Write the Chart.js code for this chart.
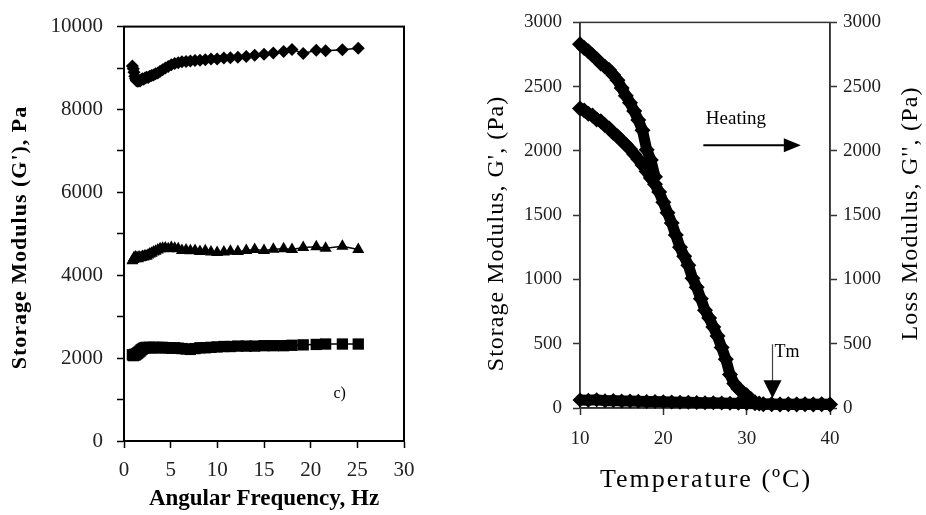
<!DOCTYPE html>
<html>
<head>
<meta charset="utf-8">
<script src="https://cdn.jsdelivr.net/npm/chart.js@4.4.0/dist/chart.umd.min.js"></script>
<style>
  html, body { margin: 0; padding: 0; background: #fff; }
  #wrap { position: relative; width: 926px; height: 515px; overflow: hidden; }
  #left { position: absolute; left: 0; top: 0; width: 460px; height: 515px; }
  #right { position: absolute; left: 460px; top: 0; width: 466px; height: 515px; }
</style>
</head>
<body>
<div id="wrap">
  <canvas id="left" width="460" height="515"></canvas>
  <canvas id="right" width="466" height="515"></canvas>
</div>
<script>
// ---- left panel: storage modulus vs angular frequency ----
const freq = [0.9, 1.0, 1.07, 1.15, 1.23, 1.31, 1.40, 1.50, 1.61, 1.72,
              1.84, 1.97, 2.10, 2.25, 2.41, 2.58, 2.76, 2.95, 3.16, 3.38,
              3.62, 3.87, 4.14, 4.43, 4.74, 5.07, 5.43, 5.81, 6.21, 6.65,
              7.11, 7.61, 8.14, 8.71, 9.32, 9.98, 10.7, 11.4, 12.2, 13.1,
              14.0, 15.0, 16.0, 17.1, 18.0, 19.2, 20.6, 21.6, 23.4, 25.1];
const gDiamond = [9050, 8980, 8900, 8800, 8740, 8700, 8690, 8680, 8700, 8690,
                  8720, 8740, 8730, 8760, 8780, 8770, 8800, 8820, 8830, 8860,
                  8880, 8920, 8960, 9000, 9040, 9080, 9110, 9130, 9150, 9160,
                  9170, 9180, 9190, 9200, 9220, 9220, 9240, 9250, 9260, 9280,
                  9310, 9330, 9360, 9400, 9450, 9350, 9430, 9420, 9440, 9480];
const gTriangle = [4350, 4380, 4420, 4400, 4440, 4410, 4430, 4400, 4440, 4420,
                   4430, 4450, 4440, 4470, 4460, 4490, 4510, 4530, 4560, 4580,
                   4610, 4640, 4650, 4660, 4640, 4670, 4650, 4640, 4600, 4610,
                   4590, 4600, 4570, 4590, 4560, 4550, 4560, 4580, 4570, 4600,
                   4620, 4600, 4630, 4640, 4620, 4670, 4690, 4650, 4700, 4620];
const gSquare = [2080, 2060, 2070, 2090, 2080, 2100, 2110, 2130, 2150, 2170,
                 2200, 2220, 2240, 2250, 2260, 2250, 2260, 2250, 2260, 2250,
                 2260, 2250, 2260, 2250, 2250, 2240, 2250, 2240, 2230, 2220,
                 2210, 2230, 2250, 2250, 2260, 2270, 2280, 2280, 2290, 2290,
                 2290, 2300, 2300, 2300, 2310, 2320, 2330, 2340, 2340, 2340];
const freqTicks = [0, 5, 10, 15, 20, 25, 30];

// ---- right panel: moduli vs temperature on heating ----
const tempA = [10, 10.5, 11, 11.5, 12, 12.5, 13, 13.5, 14, 14.5,
               15, 15.5, 16, 16.5, 17, 17.5, 18, 18.5, 19];
const gA = [2830, 2800, 2775, 2745, 2715, 2680, 2655, 2630, 2590, 2550,
            2490, 2430, 2375, 2310, 2240, 2160, 2010, 1930, 1800];
const tempB = [10, 10.5, 11, 11.5, 12, 12.5, 13, 13.5, 14, 14.5,
               15, 15.5, 16, 16.5, 17, 17.5, 18, 18.5, 19, 19.5,
               20, 20.5, 21, 21.5, 22, 22.5, 23, 23.5, 24, 24.5,
               25, 25.5, 26, 26.5, 27, 27.5, 28, 28.5, 29, 29.5,
               30, 30.5, 31, 31.5, 32, 33, 34, 35, 36, 37, 38, 39, 40];
const gB = [2330, 2315, 2290, 2275, 2245, 2230, 2200, 2175, 2140, 2115,
            2080, 2050, 2015, 1975, 1935, 1890, 1840, 1790, 1740, 1680,
            1600, 1520, 1440, 1345, 1250, 1180, 1110, 1010, 940, 850,
            760, 700, 630, 560, 470, 380, 260, 190, 150, 125,
            100, 70, 45, 35, 30, 30, 28, 30, 28, 30, 28, 30, 28];
const tempC = [10, 11, 12, 13, 14, 15, 16, 17, 18, 19, 20, 21, 22, 23, 24, 25,
               26, 27, 28, 29, 30, 31, 32, 33, 34, 35, 36, 37, 38, 39, 40];
const gC = [62, 60, 64, 57, 58, 54, 55, 52, 50, 50, 48, 46, 45, 44, 42, 41,
            40, 38, 37, 36, 35, 33, 32, 31, 30, 30, 29, 30, 29, 30, 29];
const tempTicks = [10, 20, 30, 40];

const serif = "'Liberation Serif', 'Times New Roman', serif";

function pts(xs, ys) {
    return xs.map((x, i) => ({ x: x, y: ys[i] }));
}

function drawText(ctx, text, x, y, font, angle, spacing) {
    ctx.save();
    ctx.translate(x, y);
    ctx.rotate(angle);
    ctx.font = font;
    ctx.letterSpacing = spacing + 'px';
    ctx.fillStyle = '#000';
    ctx.textAlign = 'center';
    ctx.textBaseline = 'middle';
    ctx.fillText(text, spacing / 2, 0);
    ctx.restore();
}

function series(data, style, radius, lineWidth) {
    return {
        data: data,
        showLine: true,
        pointStyle: style,
        pointRadius: radius,
        pointHoverRadius: radius,
        pointBorderWidth: 0,
        backgroundColor: '#000',
        borderColor: '#000',
        borderWidth: lineWidth,
        clip: false
    };
}

const frame = {
    id: 'frame',
    beforeDatasetsDraw(chart, args, opts) {
        const a = chart.chartArea;
        const ctx = chart.ctx;
        ctx.save();
        ctx.strokeStyle = opts.color;
        ctx.lineWidth = opts.width;
        ctx.strokeRect(a.left, a.top, a.right - a.left, a.bottom - a.top);
        ctx.restore();
    }
};

// left chart
const leftNotes = {
    id: 'leftNotes',
    afterDraw(chart) {
        const ctx = chart.ctx;
        const x = chart.scales.x, y = chart.scales.y;
        drawText(ctx, "Storage Modulus (G'), Pa", 20, 238, 'bold 22px ' + serif, -Math.PI / 2, 1);
        drawText(ctx, 'c)', x.getPixelForValue(23.1), y.getPixelForValue(1140), '16px ' + serif, 0, 0);
    }
};

new Chart(document.getElementById('left'), {
    type: 'scatter',
    data: {
        datasets: [
            series(pts(freq, gDiamond), 'rectRot', 6.5, 1.5),
            series(pts(freq, gTriangle), 'triangle', 7, 1.5),
            series(pts(freq, gSquare), 'rect', 8, 1.5)
        ]
    },
    options: {
        responsive: false,
        animation: false,
        layout: { padding: { top: 20, right: 56, left: 0, bottom: 0 } },
        plugins: {
            legend: { display: false },
            tooltip: { enabled: false },
            frame: { color: '#000', width: 2 }
        },
        scales: {
            x: {
                type: 'linear', min: 0, max: 30,
                afterBuildTicks: s => { s.ticks = freqTicks.map(v => ({ value: v })); },
                afterFit: s => { s.height = 74; },
                ticks: { font: { family: serif, size: 21 }, color: '#222', padding: 10, maxRotation: 0 },
                grid: { drawOnChartArea: false, tickLength: 7, color: '#000', tickWidth: 1.5 },
                border: { color: '#000', width: 2 },
                title: {
                    display: true, text: 'Angular Frequency, Hz', color: '#000',
                    font: { family: serif, size: 23, weight: 'bold' },
                    padding: { top: 0, bottom: 2 }
                }
            },
            y: {
                min: 0, max: 10000,
                afterFit: s => { s.width = 124; },
                ticks: {
                    stepSize: 1000, font: { family: serif, size: 21 }, color: '#222', padding: 14,
                    callback: v => (v % 2000 === 0 ? String(v) : '')
                },
                grid: { drawOnChartArea: false, tickLength: 7, color: '#000', tickWidth: 1.5 },
                border: { color: '#000', width: 2 }
            }
        }
    },
    plugins: [frame, leftNotes]
});

// right chart
const rightNotes = {
    id: 'rightNotes',
    afterDraw(chart) {
        const ctx = chart.ctx;
        const x = chart.scales.x, y = chart.scales.y;
        drawText(ctx, "Storage Modulus, G', (Pa)", 37, 234, '24px ' + serif, -Math.PI / 2, 1);
        drawText(ctx, "Loss Modulus, G'', (Pa)", 451, 214, '24px ' + serif, -Math.PI / 2, 1.2);
        drawText(ctx, 'Temperature (ºC)', 245, 480, '26px ' + serif, 0, 2);

        ctx.save();
        ctx.fillStyle = '#000';
        ctx.strokeStyle = '#000';
        ctx.font = '19px ' + serif;
        ctx.textAlign = 'left';
        ctx.textBaseline = 'middle';
        ctx.fillText('Heating', x.getPixelForValue(25.1), y.getPixelForValue(2250));

        // heating arrow
        const hx0 = x.getPixelForValue(24.8), hx1 = x.getPixelForValue(36.5);
        const hy = y.getPixelForValue(2044);
        ctx.lineWidth = 2;
        ctx.beginPath();
        ctx.moveTo(hx0, hy);
        ctx.lineTo(hx1 - 14, hy);
        ctx.stroke();
        ctx.beginPath();
        ctx.moveTo(hx1, hy);
        ctx.lineTo(hx1 - 17, hy - 7);
        ctx.lineTo(hx1 - 17, hy + 7);
        ctx.closePath();
        ctx.fill();

        // Tm arrow
        ctx.font = '18px ' + serif;
        ctx.fillText('Tm', x.getPixelForValue(33.35), y.getPixelForValue(430));
        const tx = x.getPixelForValue(33.1);
        const ty0 = y.getPixelForValue(496), ty1 = y.getPixelForValue(76);
        ctx.strokeStyle = '#444';
        ctx.lineWidth = 1.2;
        ctx.beginPath();
        ctx.moveTo(tx, ty0);
        ctx.lineTo(tx, ty1 - 14);
        ctx.stroke();
        ctx.beginPath();
        ctx.moveTo(tx, ty1);
        ctx.lineTo(tx - 9, ty1 - 18);
        ctx.lineTo(tx + 9, ty1 - 18);
        ctx.closePath();
        ctx.fill();
        ctx.restore();
    }
};

const rightTicks = {
    stepSize: 500, font: { family: serif, size: 19 }, color: '#222',
    callback: v => String(v)
};

new Chart(document.getElementById('right'), {
    type: 'scatter',
    data: {
        datasets: [
            series(pts(tempA, gA), 'rectRot', 8, 11),
            series(pts(tempB, gB), 'rectRot', 8, 11),
            series(pts(tempC, gC), 'rectRot', 7.5, 11)
        ]
    },
    options: {
        responsive: false,
        animation: false,
        layout: { padding: { top: 15, right: 0, left: 0, bottom: 0 } },
        plugins: {
            legend: { display: false },
            tooltip: { enabled: false },
            frame: { color: '#333', width: 1.5 }
        },
        scales: {
            x: {
                type: 'linear', min: 10, max: 40,
                afterBuildTicks: s => { s.ticks = tempTicks.map(v => ({ value: v })); },
                afterFit: s => { s.height = 107; },
                ticks: { font: { family: serif, size: 19 }, color: '#222', padding: 13, maxRotation: 0 },
                grid: { drawOnChartArea: false, tickLength: 7, color: '#333', tickWidth: 1.5 },
                border: { color: '#333', width: 1.5 }
            },
            y: {
                position: 'left', min: 0, max: 3000,
                afterFit: s => { s.width = 120; },
                ticks: Object.assign({ padding: 11 }, rightTicks),
                grid: { drawOnChartArea: false, tickLength: 7, color: '#333', tickWidth: 1.5 },
                border: { color: '#333', width: 1.5 }
            },
            y2: {
                position: 'right', min: 0, max: 3000,
                afterFit: s => { s.width = 96; },
                ticks: Object.assign({ padding: 6 }, rightTicks),
                grid: { drawOnChartArea: false, tickLength: 7, color: '#333', tickWidth: 1.5 },
                border: { color: '#333', width: 1.5 }
            }
        }
    },
    plugins: [frame, rightNotes]
});
</script>
</body>
</html>
